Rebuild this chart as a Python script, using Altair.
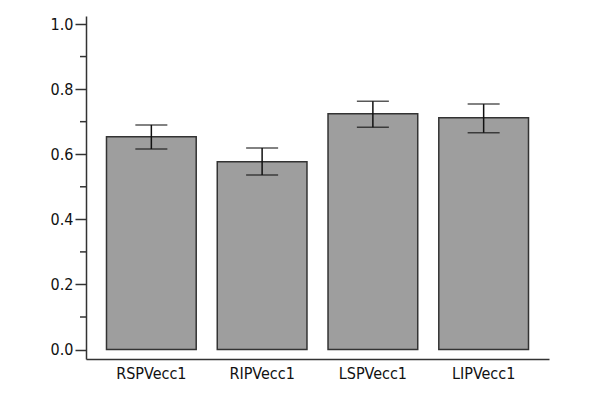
import altair as alt
import pandas as pd

categories = ["RSPVecc1", "RIPVecc1", "LSPVecc1", "LIPVecc1"]
means = [0.654, 0.577, 0.724, 0.712]
err_low = [0.616, 0.536, 0.683, 0.666]
err_high = [0.690, 0.619, 0.763, 0.754]
major_ticks = [0.0, 0.2, 0.4, 0.6, 0.8, 1.0]
minor_ticks = [0.1, 0.3, 0.5, 0.7, 0.9]

df = pd.DataFrame({"cat": categories, "mean": means, "lo": err_low, "hi": err_high})
minor_df = pd.DataFrame({"v": minor_ticks})

FONT = "DejaVu Sans Condensed"
AX = "#333333"

xscale = alt.Scale(domain=categories, paddingInner=0.19, paddingOuter=0.185)
yscale = alt.Scale(domain=[-0.029, 1.0246], nice=False, zero=False)

x_enc = alt.X("cat:N", scale=xscale, sort=categories, title=None,
              axis=alt.Axis(labelAngle=0, ticks=False, labelPadding=6,
                            labelFontSize=16, labelFont=FONT, labelColor="#111111",
                            domainColor=AX, domainWidth=1.5))

bars = alt.Chart(df).mark_bar(fill="#9e9e9e", stroke=AX, strokeWidth=1.5).encode(
    x=x_enc,
    y=alt.Y("mean:Q", scale=yscale, title=None,
            axis=alt.Axis(values=major_ticks, format=".1f", tickSize=11, tickWidth=1.5,
                          tickColor=AX, domainColor=AX, domainWidth=1.5,
                          labelPadding=2, labelFontSize=16, labelFont=FONT,
                          labelColor="#111111", grid=False)),
    y2=alt.datum(0),
)

rules = alt.Chart(df).mark_rule(color="#111111", strokeWidth=1.5).encode(
    x=alt.X("cat:N", scale=xscale, sort=categories),
    y=alt.Y("lo:Q", scale=yscale),
    y2="hi:Q",
)
cap_hi = alt.Chart(df).mark_tick(color="#111111", thickness=1.5, size=32).encode(
    x=alt.X("cat:N", scale=xscale, sort=categories),
    y=alt.Y("hi:Q", scale=yscale),
)
cap_lo = alt.Chart(df).mark_tick(color="#111111", thickness=1.5, size=32).encode(
    x=alt.X("cat:N", scale=xscale, sort=categories),
    y=alt.Y("lo:Q", scale=yscale),
)
minor = alt.Chart(minor_df).mark_rule(color=AX, strokeWidth=1.5).encode(
    x=alt.value(-6), x2=alt.value(0),
    y=alt.Y("v:Q", scale=yscale),
)

chart = alt.layer(bars, rules, cap_hi, cap_lo, minor).properties(
    width=463, height=343,
    autosize=alt.AutoSizeParams(type="none"),
    padding={"left": 78, "top": 8, "right": 10, "bottom": 30},
).configure_view(stroke=None).configure_axisY(domain=True)

chart.save("out.html", embed_options={"renderer": "svg", "actions": False})
